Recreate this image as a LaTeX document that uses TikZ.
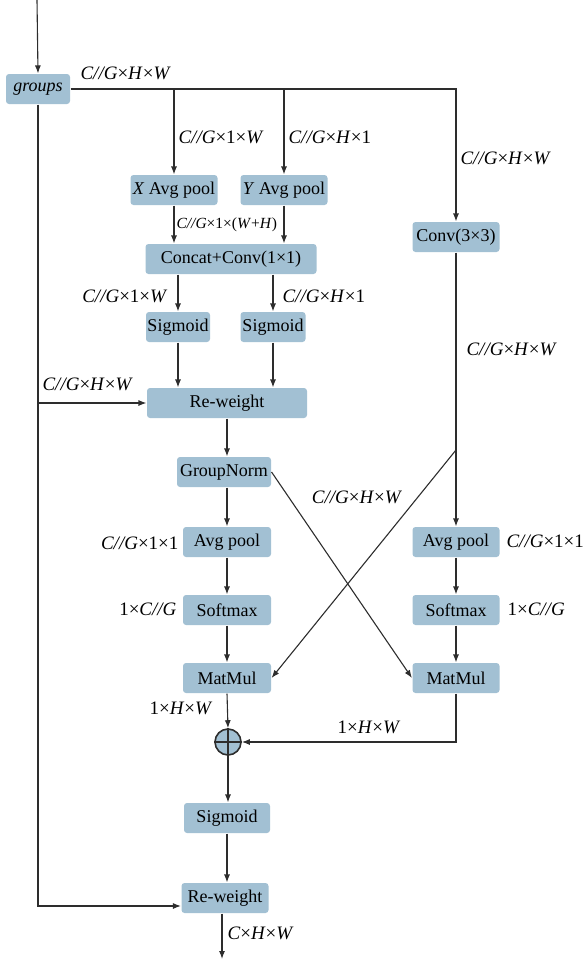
\documentclass[tikz,border=0pt]{standalone}
\usepackage{fontspec}
\setmainfont{Liberation Serif}
\usetikzlibrary{arrows.meta}
\definecolor{boxblue}{RGB}{162,192,211}
\definecolor{linegray}{RGB}{45,45,45}
\tikzset{
  blk/.style={fill=boxblue, rounded corners=3pt, inner sep=0pt, minimum height=30,
    font=\fontsize{18}{21}\selectfont},
  lbl/.style={inner sep=0pt, font=\fontsize{19}{22}\selectfont},
  slbl/.style={inner sep=0pt, font=\fontsize{15.5}{18}\selectfont},
  >={Latex[length=8pt,width=6pt]}
}
\newcommand{\shp}[3]{\textit{#1}×\textit{#2}×\textit{#3}}
\begin{document}
\begin{tikzpicture}[x=1pt,y=-1pt,line width=1.1pt,draw=linegray]
  \useasboundingbox (0,0) rectangle (587,959);
  % blocks
  \node[blk, minimum width=64] (grp) at (38,89) {\textit{groups}};
  \node[blk, minimum width=87] (xap) at (174,190) {\textit{X} Avg pool};
  \node[blk, minimum width=87] (yap) at (284,190) {\textit{Y} Avg pool};
  \node[blk, minimum width=171] (cat) at (231,259) {Concat+Conv(1×1)};
  \node[blk, minimum width=87] (cnv) at (456,237) {Conv(3×3)};
  \node[blk, minimum width=64] (sg1) at (178,327) {Sigmoid};
  \node[blk, minimum width=65] (sg2) at (273,327) {Sigmoid};
  \node[blk, minimum width=160] (rw1) at (227,403) {Re-weight};
  \node[blk, minimum width=94] (gn) at (224,472) {GroupNorm};
  \node[blk, minimum width=88] (ap1) at (227,542) {Avg pool};
  \node[blk, minimum width=87] (ap2) at (456,542) {Avg pool};
  \node[blk, minimum width=88] (sm1) at (227,610) {Softmax};
  \node[blk, minimum width=87] (sm2) at (456,610) {Softmax};
  \node[blk, minimum width=88] (mm1) at (227,678) {MatMul};
  \node[blk, minimum width=87] (mm2) at (456,678) {MatMul};
  \node[circle, draw, fill=boxblue, line width=1.6pt, minimum size=26, inner sep=0pt] (add) at (228,742) {};
  \draw[line width=1.6pt] (add.north) -- (add.south) (add.west) -- (add.east);
  \node[blk, minimum width=86] (sg3) at (227,818) {Sigmoid};
  \node[blk, minimum width=87] (rw2) at (225,898) {Re-weight};
  \coordinate (in) at (37,0);
  \coordinate (out) at (222,959);
  \coordinate (cx) at (456,450);
  % labels
  \node[lbl, anchor=west] (l1) at (80,73) {\shp{C//G}{H}{W}};
  \node[lbl, anchor=west] (l2) at (178,137) {\textit{C//G}×1×\textit{W}};
  \node[lbl, anchor=west] (l3) at (288,137) {\textit{C//G}×\textit{H}×1};
  \node[lbl, anchor=west] (l4) at (460,158) {\shp{C//G}{H}{W}};
  \node[slbl, anchor=west] (l5) at (176,225) {\textit{C//G}×1×(\textit{W}+\textit{H})};
  \node[lbl, anchor=east] (l6) at (168,296) {\textit{C//G}×1×\textit{W}};
  \node[lbl, anchor=west] (l7) at (282,296) {\textit{C//G}×\textit{H}×1};
  \node[lbl, anchor=west] (l8) at (466,349) {\shp{C//G}{H}{W}};
  \node[lbl, anchor=west] (l9) at (42,384) {\shp{C//G}{H}{W}};
  \node[lbl] (l10) at (357,497) {\shp{C//G}{H}{W}};
  \node[lbl, anchor=east] (l11) at (179,543) {\textit{C//G}×1×1};
  \node[lbl, anchor=west] (l12) at (506,541) {\textit{C//G}×1×1};
  \node[lbl, anchor=east] (l13) at (177,609) {1×\textit{C//G}};
  \node[lbl, anchor=west] (l14) at (507,609) {1×\textit{C//G}};
  \node[lbl, anchor=east] (l15) at (213,708) {1×\textit{H}×\textit{W}};
  \node[lbl] (l16) at (369,727) {1×\textit{H}×\textit{W}};
  \node[lbl, anchor=west] (l17) at (227,933) {\shp{C}{H}{W}};
  % connectors
  \begin{scope}[->]
    \draw (in) -- (grp.north);
    \draw (grp.east) -| (cnv.north);
    \draw (xap.north |- grp.east) -- (xap.north);
    \draw (yap.north |- grp.east) -- (yap.north);
    \draw (xap.south) -- (xap.south |- cat.north);
    \draw (yap.south) -- (yap.south |- cat.north);
    \draw (cat.south -| sg1) -- (sg1.north);
    \draw (cat.south -| sg2) -- (sg2.north);
    \draw (sg1.south) -- (sg1.south |- rw1.north);
    \draw (sg2.south) -- (sg2.south |- rw1.north);
    \draw (grp.south |- rw1.west) -- (rw1.west);
    \draw (grp.south) |- ([yshift=-8pt]rw2.west);
    \draw (rw1.south) -- (rw1.south |- gn.north);
    \draw (gn.south -| ap1) -- (ap1.north);
    \draw (ap1.south) -- (sm1.north);
    \draw (sm1.south) -- (mm1.north);
    \draw (cnv.south) -- (ap2.north);
    \draw (ap2.south) -- (sm2.north);
    \draw (sm2.south) -- (mm2.north);
    \draw (cx) -- (mm1.east);
    \draw (gn.east) -- (mm2.west);
    \draw (mm1.south) -- (add.north);
    \draw (mm2.south) |- (add.east);
    \draw (add.south) -- (add.south |- sg3.north);
    \draw (sg3.south) -- (sg3.south |- rw2.north);
    \draw (rw2.south -| out) -- (out);
  \end{scope}
\end{tikzpicture}
\end{document}
